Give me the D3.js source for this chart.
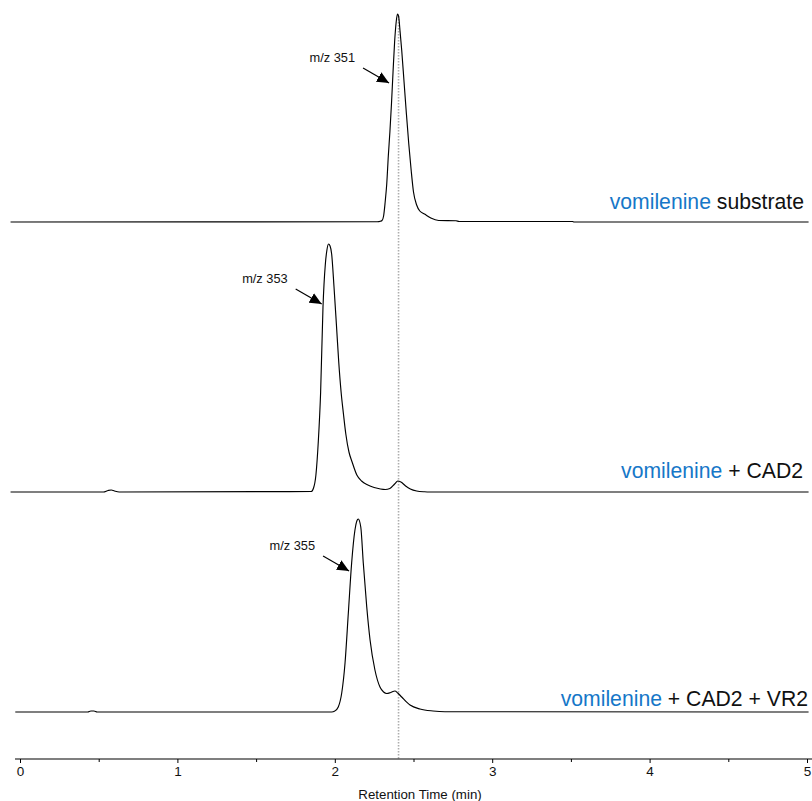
<!DOCTYPE html>
<html lang="en">
<head>
<meta charset="UTF-8">
<title>Vomilenine reduction chromatograms</title>
<script src="https://d3js.org/d3.v7.min.js"></script>
<style>
  body { margin: 0; background: #fff; }
  svg { display: block; font-family: "Liberation Sans", Arial, Helvetica, sans-serif; }
  .trace { fill: none; stroke: #000; stroke-width: 1.15; }
</style>
</head>
<body>
<svg width="812" height="801"></svg>
<script>
// retention times (min) and relative intensities
const substrateTime = [-0.06, 2.27, 2.29, 2.30, 2.31, 2.32, 2.33, 2.34, 2.35, 2.36, 2.37, 2.38, 2.39, 2.398, 2.405, 2.415, 2.425, 2.44, 2.455, 2.47, 2.485, 2.50, 2.52, 2.54, 2.57, 2.61, 2.66, 2.77, 2.79, 3.51, 3.52, 5.01];
const substrateInt  = [0, 0.3, 0.8, 1.5, 6, 20, 38, 66, 90, 118, 150, 180, 200, 208, 206, 190, 172, 140, 108, 78, 52, 30, 17, 11, 8, 4, 1.5, 1.2, 0.5, 0.5, 0, 0];

const cadTime = [-0.06, 0.53, 0.56, 0.58, 0.60, 0.63, 1.85, 1.865, 1.88, 1.895, 1.91, 1.925, 1.94, 1.95, 1.96, 1.97, 1.98, 1.995, 2.01, 2.025, 2.04, 2.055, 2.07, 2.09, 2.11, 2.14, 2.17, 2.21, 2.25, 2.29, 2.32, 2.35, 2.38, 2.40, 2.42, 2.45, 2.48, 2.52, 2.57, 2.60, 5.01];
const cadInt  = [0, 0, 1.5, 2, 1, 0, 0.5, 4, 17, 50, 100, 185, 228, 242, 248, 246, 238, 205, 168, 130, 100, 78, 58, 40, 30, 17, 11, 7, 4.5, 3, 2.5, 3.5, 8, 11, 10, 6, 3, 1, 0.2, 0, 0];

const cadVrTime = [-0.03, 0.43, 0.45, 0.47, 0.49, 1.98, 2.00, 2.022, 2.044, 2.065, 2.086, 2.107, 2.128, 2.14, 2.149, 2.165, 2.181, 2.203, 2.224, 2.255, 2.287, 2.31, 2.33, 2.355, 2.382, 2.40, 2.425, 2.478, 2.541, 2.624, 2.70, 5.01];
const cadVrInt  = [0, 0, 1, 1, 0, 0, 1, 5, 19, 49, 99, 149, 182, 191, 193, 185, 149, 105, 72, 42, 25, 20, 18.5, 19.5, 21, 19, 15, 7, 3, 1, 0.3, 0];

const sampleNames = ["vomilenine", "vomilenine", "vomilenine"];
const sampleSuffix = [" substrate", " + CAD2", " + CAD2 + VR2"];
const peakLabels = ["m/z 351", "m/z 353", "m/z 355"];
const arrowTime = [2.351, 1.923, 2.097];
const arrowInt = [139, 188, 141];
const markerTime = 2.405;
const xTicks = [0, 1, 2, 3, 4, 5];
const xMinorTicks = [0.5, 1.5, 2.5, 3.5, 4.5];

const traces = [
  substrateTime.map((t, i) => [t, substrateInt[i]]),
  cadTime.map((t, i) => [t, cadInt[i]]),
  cadVrTime.map((t, i) => [t, cadVrInt[i]])
];

const svg = d3.select("svg");
const baselines = [222, 492, 712];
const labelX = [804, 803, 808];
const labelOffsets = [13, 14, 6];
const axisY = 759;

const x = d3.scaleLinear().domain([0, 5]).range([20, 807]);
const h = d3.scaleLinear().domain([0, 250]).range([0, 250]);

svg.append("defs").append("marker")
  .attr("id", "arrow")
  .attr("viewBox", "0 0 10 10")
  .attr("refX", 10).attr("refY", 5)
  .attr("markerWidth", 12).attr("markerHeight", 12)
  .attr("markerUnits", "userSpaceOnUse")
  .attr("orient", "auto")
  .append("path").attr("d", "M0,0.5L10,5L0,9.5Z").attr("fill", "#000");

// dotted reference line at the substrate retention time
svg.append("line")
  .attr("x1", x(markerTime)).attr("x2", x(markerTime))
  .attr("y1", 16).attr("y2", axisY)
  .attr("stroke", "#adadad").attr("stroke-width", 1.6)
  .attr("stroke-dasharray", "1.5,1.5");

traces.forEach((pts, i) => {
  const line = d3.line()
    .x(d => x(d[0]))
    .y(d => baselines[i] - h(d[1]))
    .curve(d3.curveMonotoneX);
  svg.append("path").attr("class", "trace").attr("d", line(pts));

  const label = svg.append("text")
    .attr("x", labelX[i]).attr("y", baselines[i] - labelOffsets[i])
    .attr("text-anchor", "end").attr("font-size", 21.2);
  label.append("tspan").attr("fill", "#1677c8").text(sampleNames[i]);
  label.append("tspan").attr("fill", "#111").text(sampleSuffix[i]);

  const tx = x(arrowTime[i]), ty = baselines[i] - h(arrowInt[i]);
  svg.append("line")
    .attr("x1", tx - 27).attr("y1", ty - 15)
    .attr("x2", tx - 1).attr("y2", ty)
    .attr("stroke", "#000").attr("stroke-width", 1.2)
    .attr("marker-end", "url(#arrow)");
  svg.append("text")
    .attr("x", tx - 35).attr("y", ty - 21)
    .attr("text-anchor", "end").attr("font-size", 12.8)
    .attr("fill", "#111").text(peakLabels[i]);
});

// x axis
svg.append("line")
  .attr("x1", 15).attr("x2", 812).attr("y1", axisY).attr("y2", axisY)
  .attr("stroke", "#000").attr("stroke-width", 1.2);

const axis = svg.append("g").attr("transform", `translate(0,${axisY})`)
  .call(d3.axisBottom(x).tickValues(xTicks).tickFormat(d3.format("d")).tickSize(4).tickPadding(3));
axis.select(".domain").remove();
axis.selectAll("text").attr("font-size", 13.5).attr("font-family", null).attr("fill", "#111");

const minor = svg.append("g").attr("transform", `translate(0,${axisY})`)
  .call(d3.axisBottom(x).tickValues(xMinorTicks).tickFormat("").tickSize(3));
minor.select(".domain").remove();

svg.append("text")
  .attr("x", 420).attr("y", 799)
  .attr("text-anchor", "middle").attr("font-size", 13.3)
  .attr("fill", "#111").text("Retention Time (min)");
</script>
</body>
</html>
